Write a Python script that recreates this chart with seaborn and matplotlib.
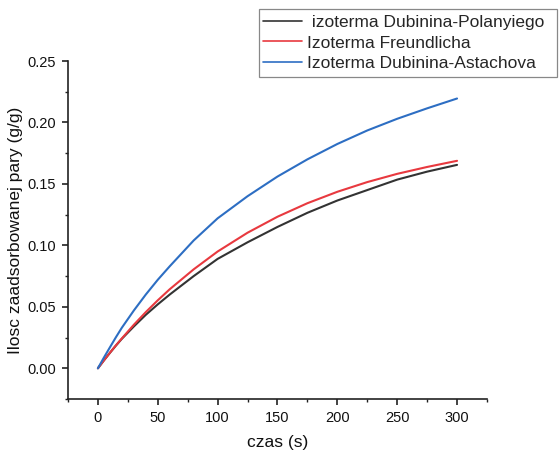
"""
plot.py

Kinetics of vapour adsorption for three isotherm models
"""

import matplotlib
matplotlib.use("Agg")
import matplotlib.pyplot as plt
from matplotlib.patches import Rectangle
from matplotlib.ticker import MultipleLocator, FormatStrFormatter
import seaborn as sns
import pandas as pd

# time points (s)
czas = [0, 5, 10, 15, 20, 30, 40, 50, 60, 80, 100, 125, 150, 175, 200, 225, 250, 275, 300]

# adsorbed amount (g/g)
dubinin_polanyi = [0, 0.0064, 0.0125, 0.0184, 0.024, 0.034, 0.0435, 0.052, 0.060, 0.075,
                   0.089, 0.1025, 0.115, 0.1265, 0.1365, 0.145, 0.1535, 0.160, 0.1655]
freundlich = [0, 0.0064, 0.0126, 0.0186, 0.0243, 0.0354, 0.0457, 0.0553, 0.0643, 0.0805,
              0.095, 0.1103, 0.1233, 0.1343, 0.1436, 0.1515, 0.1582, 0.1638, 0.1688]
dubinin_astachov = [0, 0.0087, 0.017, 0.0252, 0.033, 0.047, 0.060, 0.072, 0.083, 0.104,
                    0.122, 0.140, 0.156, 0.170, 0.1825, 0.1935, 0.203, 0.2115, 0.2195]

labels = [" izoterma Dubinina-Polanyiego", "Izoterma Freundlicha",
          "Izoterma Dubinina-Astachova"]
colors = ["#333333", "#e8393f", "#2d6ec3"]


def main() -> None:
    df = pd.concat([
        pd.DataFrame({"czas": czas, "q": vals, "model": lab})
        for vals, lab in zip([dubinin_polanyi, freundlich, dubinin_astachov], labels)
    ])

    sns.set_theme(style="ticks")
    plt.rcParams["font.family"] = ["Liberation Sans", "DejaVu Sans"]

    fig = plt.figure(figsize=(5.6, 4.51), dpi=100)
    ax = fig.add_axes([0.1214, 0.1153, 0.7482, 0.7494])

    sns.lineplot(data=df, x="czas", y="q", hue="model", hue_order=labels,
                 palette=colors, linewidth=1.5, ax=ax, legend=False)

    ax.set_xlim(-25, 325)
    ax.set_ylim(-0.025, 0.25)
    ax.xaxis.set_major_locator(MultipleLocator(50))
    ax.xaxis.set_minor_locator(MultipleLocator(25))
    ax.yaxis.set_major_locator(MultipleLocator(0.05))
    ax.yaxis.set_minor_locator(MultipleLocator(0.025))
    ax.yaxis.set_major_formatter(FormatStrFormatter("%.2f"))

    for side in ["top", "right"]:
        ax.spines[side].set_visible(False)
    for side in ["left", "bottom"]:
        ax.spines[side].set_color("#222222")
        ax.spines[side].set_linewidth(1.2)

    ax.tick_params(which="major", length=4, width=1.2, colors="#222222",
                   labelsize=10.5, pad=4.5)
    ax.tick_params(which="minor", length=2.5, width=1.0, colors="#222222")
    ax.tick_params(axis="both", labelcolor="#111111")

    ax.set_xlabel("czas (s)", fontsize=12.5, labelpad=7, color="#111111")
    ax.set_ylabel("Ilosc zaadsorbowanej pary (g/g)", fontsize=12.5,
                  labelpad=3, color="#111111")

    # legend box like the Origin one: tight on the left, wide on the right
    fig.add_artist(Rectangle((259 / 560, 1 - 77 / 451), 298 / 560, 68 / 451,
                             transform=fig.transFigure, fill=False,
                             edgecolor="#888888", linewidth=0.9))
    handles = [plt.Line2D([], [], color=c, linewidth=1.2) for c in colors]
    fig.legend(handles, labels, loc="upper left",
               bbox_to_anchor=(263 / 560, 1 - 15 / 451), fontsize=12.5,
               frameon=False, handlelength=2.25, handletextpad=0.3,
               labelspacing=0.3, borderpad=0, borderaxespad=0)

    fig.savefig("out.png", dpi=100)
    plt.close(fig)


if __name__ == "__main__":
    main()
